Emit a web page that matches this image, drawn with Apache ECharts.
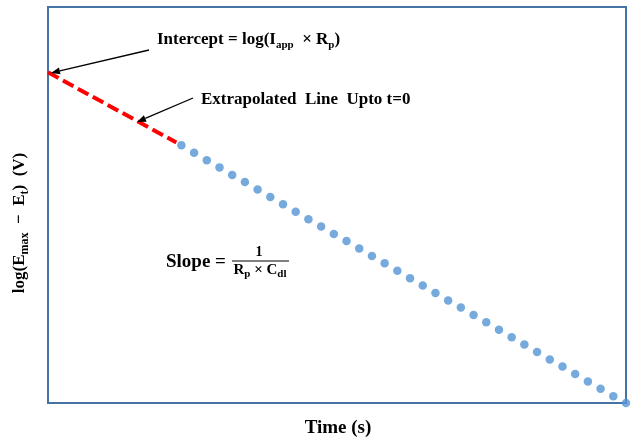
<!DOCTYPE html>
<html><head><meta charset="utf-8">
<script src="https://cdn.jsdelivr.net/npm/echarts@6/dist/echarts.min.js"></script>
<style>html,body{margin:0;padding:0;background:#fff}#c{width:631px;height:439px}</style>
</head><body><div id="c"></div>
<script>
// Measured data (arbitrary time units, log potential units)
const timeValues = [10.5, 11.5, 12.5, 13.5, 14.5, 15.5, 16.5, 17.5, 18.5, 19.5,
  20.5, 21.5, 22.5, 23.5, 24.5, 25.5, 26.5, 27.5, 28.5, 29.5,
  30.5, 31.5, 32.5, 33.5, 34.5, 35.5, 36.5, 37.5, 38.5, 39.5,
  40.5, 41.5, 42.5, 43.5, 44.5, 45.5];
const logValues = [6.51, 6.32, 6.13, 5.95, 5.76, 5.58, 5.39, 5.20, 5.02, 4.83,
  4.64, 4.46, 4.27, 4.09, 3.90, 3.71, 3.53, 3.34, 3.15, 2.97,
  2.78, 2.59, 2.41, 2.22, 2.04, 1.85, 1.66, 1.48, 1.29, 1.10,
  0.92, 0.73, 0.54, 0.36, 0.17, 0.00];
const extrapTime = [0, 10.1];
const extrapValues = [8.35, 6.58];
const xTitle = 'Time (s)';

const SERIF = '"Liberation Serif", "DejaVu Serif", serif';
const chart = echarts.init(document.getElementById('c'), null, {renderer: 'canvas'});

const scatterData = timeValues.map((t, i) => [t, logValues[i]]);
const lineData = extrapTime.map((t, i) => [t, extrapValues[i]]);

function arrow(x1, y1, x2, y2) {
  const ang = Math.atan2(y2 - y1, x2 - x1);
  const L = 9, W = 3.5;
  const bx = x2 - L * Math.cos(ang), by = y2 - L * Math.sin(ang);
  const px = -Math.sin(ang) * W, py = Math.cos(ang) * W;
  return [
    {type: 'line', shape: {x1: x1, y1: y1, x2: bx, y2: by}, style: {stroke: '#000', lineWidth: 1.3}, z: 10},
    {type: 'polygon', shape: {points: [[x2, y2], [bx + px, by + py], [bx - px, by - py]]}, style: {fill: '#000'}, z: 10}
  ];
}

const mainStyle = (fs) => ({fontSize: fs, fontWeight: 'bold', fontFamily: SERIF, fill: '#000', lineHeight: fs + 4, verticalAlign: 'middle'});
const subStyle = (fs, lh) => ({fontSize: fs, fontWeight: 'bold', fontFamily: SERIF, fill: '#000', lineHeight: lh, verticalAlign: 'bottom'});

const option = {
  animation: false,
  backgroundColor: '#fff',
  grid: {left: 48, right: 5, top: 7, bottom: 36, show: true, borderColor: '#4673a6', borderWidth: 2, backgroundColor: 'transparent'},
  xAxis: {type: 'value', min: 0, max: 45.5, axisLine: {show: false}, axisTick: {show: false}, axisLabel: {show: false}, splitLine: {show: false}},
  yAxis: {type: 'value', min: 0, max: 10, axisLine: {show: false}, axisTick: {show: false}, axisLabel: {show: false}, splitLine: {show: false}},
  series: [
    {type: 'line', data: lineData, symbol: 'none', z: 2,
     lineStyle: {color: '#ff0000', width: 4, type: [12, 5]}},
    {type: 'scatter', data: scatterData, symbolSize: 8.5, clip: false, z: 3,
     itemStyle: {color: '#5495d5'}}
  ],
  graphic: [
    ...arrow(149, 50, 51, 73),
    ...arrow(193, 98, 137, 122),
    {type: 'text', x: 157, y: 40, z: 10, style: {
      text: '{m|Intercept = log(I}{s|app}{m|  × R}{s|p}{m|)}',
      rich: {m: mainStyle(17), s: subStyle(11, 12)},
      textAlign: 'left', textVerticalAlign: 'middle'}},
    {type: 'text', x: 201, y: 100, z: 10, style: {
      text: 'Extrapolated  Line  Upto t=0',
      fontSize: 17, fontWeight: 'bold', fontFamily: SERIF, fill: '#000',
      textAlign: 'left', textVerticalAlign: 'middle'}},
    {type: 'text', x: 166, y: 262, z: 10, style: {
      text: 'Slope =', fontSize: 19, fontWeight: 'bold', fontFamily: SERIF, fill: '#000',
      textAlign: 'left', textVerticalAlign: 'middle'}},
    {type: 'text', x: 259, y: 252, z: 10, style: {
      text: '1', fontSize: 14, fontWeight: 'bold', fontFamily: SERIF, fill: '#000',
      textAlign: 'center', textVerticalAlign: 'middle'}},
    {type: 'line', z: 10, shape: {x1: 232, y1: 261, x2: 289, y2: 261}, style: {stroke: '#000', lineWidth: 1}},
    {type: 'text', x: 260, y: 270, z: 10, style: {
      text: '{m|R}{s|p}{m| × C}{s|dl}',
      rich: {m: mainStyle(15), s: subStyle(11, 10)},
      textAlign: 'center', textVerticalAlign: 'middle'}},
    {type: 'text', x: 20, y: 223, rotation: Math.PI / 2, z: 10, style: {
      text: '{m|log(E}{s|max}{m|  −  E}{s|t}{m|)  (V)}',
      rich: {m: mainStyle(17), s: subStyle(12, 12)},
      textAlign: 'center', textVerticalAlign: 'middle'}},
    {type: 'text', x: 338, y: 428, z: 10, style: {
      text: xTitle, fontSize: 19, fontWeight: 'bold', fontFamily: SERIF, fill: '#000',
      textAlign: 'center', textVerticalAlign: 'middle'}}
  ]
};
chart.setOption(option);
</script>
</body></html>
